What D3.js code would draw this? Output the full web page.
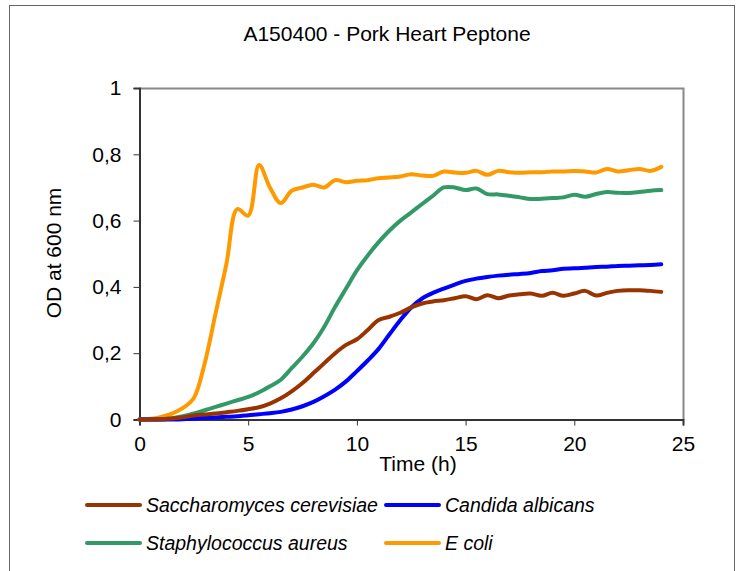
<!DOCTYPE html>
<html>
<head>
<meta charset="utf-8">
<script src="https://cdn.jsdelivr.net/npm/d3@7"></script>
<style>
  body { margin: 0; background: #fff; }
  text { font-family: "Liberation Sans", Arial, sans-serif; fill: #000; }
</style>
</head>
<body>
<div id="chart"></div>
<script>
// time points (h), every half hour
var hours = d3.range(0, 24.01, 0.5);

var sacchValues = [0, 0, 0.001, 0.003, 0.007, 0.012, 0.015, 0.018, 0.022, 0.026, 0.031, 0.037, 0.048, 0.064, 0.085, 0.11, 0.14, 0.17, 0.2, 0.225, 0.242, 0.27, 0.3, 0.31, 0.322, 0.338, 0.35, 0.356, 0.36, 0.366, 0.372, 0.363, 0.375, 0.366, 0.374, 0.378, 0.38, 0.373, 0.382, 0.373, 0.38, 0.388, 0.374, 0.382, 0.388, 0.39, 0.39, 0.388, 0.385];
var candidaValues = [0, 0, 0, 0, 0.001, 0.003, 0.005, 0.006, 0.008, 0.01, 0.013, 0.016, 0.019, 0.023, 0.03, 0.04, 0.053, 0.07, 0.09, 0.115, 0.146, 0.178, 0.213, 0.257, 0.3, 0.338, 0.365, 0.382, 0.395, 0.407, 0.418, 0.425, 0.43, 0.434, 0.437, 0.439, 0.442, 0.448, 0.45, 0.455, 0.456, 0.458, 0.46, 0.461, 0.463, 0.464, 0.465, 0.466, 0.468];
var staphValues = [0, 0, 0, 0.004, 0.01, 0.018, 0.028, 0.038, 0.048, 0.058, 0.068, 0.082, 0.1, 0.12, 0.155, 0.19, 0.23, 0.28, 0.34, 0.395, 0.45, 0.495, 0.535, 0.57, 0.6, 0.625, 0.65, 0.675, 0.7, 0.7, 0.692, 0.697, 0.68, 0.679, 0.675, 0.67, 0.665, 0.666, 0.668, 0.67, 0.678, 0.672, 0.68, 0.686, 0.684, 0.683, 0.686, 0.69, 0.692];
var ecoliValues = [0, 0.002, 0.008, 0.018, 0.035, 0.065, 0.17, 0.32, 0.47, 0.635, 0.615, 0.768, 0.7, 0.653, 0.69, 0.7, 0.708, 0.7, 0.722, 0.716, 0.72, 0.722, 0.728, 0.73, 0.733, 0.74, 0.736, 0.735, 0.748, 0.745, 0.744, 0.75, 0.738, 0.75, 0.746, 0.744, 0.746, 0.746, 0.748, 0.748, 0.75, 0.748, 0.745, 0.756, 0.748, 0.752, 0.756, 0.75, 0.762];

var seriesNames = ["Saccharomyces cerevisiae", "Candida albicans", "Staphylococcus aureus", "E coli"];
var seriesColors = ["#993300", "#0000ff", "#339966", "#ff9900"];
var seriesValues = [sacchValues, candidaValues, staphValues, ecoliValues];

var xTicks = [0, 5, 10, 15, 20, 25];
var yTicks = [0, 0.2, 0.4, 0.6, 0.8, 1];
var yTickLabels = ["0", "0,2", "0,4", "0,6", "0,8", "1"];

var W = 745, H = 571;
var margin = {top: 88, left: 139.5};
var width = 683 - margin.left, height = 419.5 - margin.top;

var svg = d3.select("#chart").append("svg")
  .attr("width", W).attr("height", H);

// outer chart frame
svg.append("rect")
  .attr("x", 9.5).attr("y", 5.5)
  .attr("width", 725).attr("height", 600)
  .attr("fill", "none").attr("stroke", "#666").attr("stroke-width", 1);

svg.append("text")
  .attr("x", 387).attr("y", 41)
  .attr("text-anchor", "middle")
  .style("font-size", "21px")
  .text("A150400 - Pork Heart Peptone");

var g = svg.append("g")
  .attr("transform", "translate(" + margin.left + "," + margin.top + ")");

var x = d3.scaleLinear().domain([0, 25]).range([0, width]);
var y = d3.scaleLinear().domain([0, 1]).range([height, 0]);

// plot border top + right
g.append("path")
  .attr("d", "M0,0.5H" + (width + 0.5) + "V" + height)
  .attr("fill", "none").attr("stroke", "#888").attr("stroke-width", 2);

var xAxis = g.append("g")
  .attr("transform", "translate(0," + height + ")")
  .call(d3.axisBottom(x).tickValues(xTicks).tickSize(6).tickPadding(11).tickFormat(d3.format("d")));
xAxis.selectAll("text").style("font-size", "21px").attr("font-family", null);

var yAxis = g.append("g")
  .call(d3.axisLeft(y).tickValues(yTicks).tickSize(6).tickPadding(12)
    .tickFormat(function(d, i) { return yTickLabels[i]; }));
yAxis.selectAll("text").style("font-size", "21px").attr("font-family", null);

[xAxis, yAxis].forEach(function(a) {
  a.select(".domain").attr("stroke", "#333").attr("stroke-width", 2);
  a.selectAll(".tick line").attr("stroke", "#333");
});

svg.append("text")
  .attr("x", 418).attr("y", 471)
  .attr("text-anchor", "middle")
  .style("font-size", "21px")
  .text("Time (h)");

svg.append("text")
  .attr("transform", "translate(61,253) rotate(-90)")
  .attr("text-anchor", "middle")
  .style("font-size", "21px")
  .text("OD at 600 nm");

var line = d3.line()
  .x(function(d) { return x(d[0]); })
  .y(function(d) { return y(d[1]); })
  .curve(d3.curveCatmullRom.alpha(0.5));

// draw order: E coli, staph, candida, sacch
[3, 2, 1, 0].forEach(function(s) {
  var pts = hours.map(function(t, i) { return [t, seriesValues[s][i]]; });
  g.append("path")
    .datum(pts)
    .attr("d", line)
    .attr("fill", "none")
    .attr("stroke", seriesColors[s])
    .attr("stroke-width", 4)
    .attr("stroke-linejoin", "round")
    .attr("stroke-linecap", "round");
});

// legend
var legendPos = [[86, 505], [385, 505], [86, 543], [385, 543]];
var legend = svg.selectAll(".legend")
  .data(seriesNames).enter()
  .append("g")
  .attr("class", "legend")
  .attr("transform", function(d, i) { return "translate(" + legendPos[i][0] + "," + legendPos[i][1] + ")"; });

legend.append("line")
  .attr("x1", 1).attr("x2", 54)
  .attr("y1", 0).attr("y2", 0)
  .attr("stroke", function(d, i) { return seriesColors[i]; })
  .attr("stroke-width", 4)
  .attr("stroke-linecap", "round");

legend.append("text")
  .attr("x", 60).attr("y", 7)
  .style("font-size", "19.5px")
  .style("font-style", "italic")
  .text(function(d) { return d; });
</script>
</body>
</html>
